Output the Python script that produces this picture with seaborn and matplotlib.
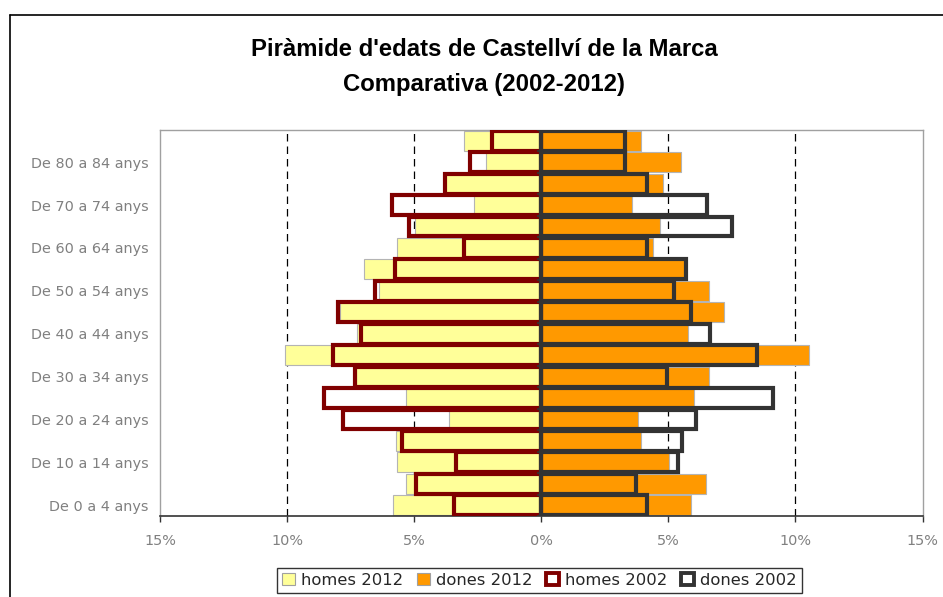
import matplotlib
matplotlib.use("Agg")
import matplotlib.pyplot as plt
from matplotlib.patches import Patch
from matplotlib.lines import Line2D
import seaborn as sns
import pandas as pd
import numpy as np

ages = ["De 0 a 4 anys", "De 5 a 9 anys", "De 10 a 14 anys", "De 15 a 19 anys",
        "De 20 a 24 anys", "De 25 a 29 anys", "De 30 a 34 anys", "De 35 a 39 anys",
        "De 40 a 44 anys", "De 45 a 49 anys", "De 50 a 54 anys", "De 55 a 59 anys",
        "De 60 a 64 anys", "De 65 a 69 anys", "De 70 a 74 anys", "De 75 a 79 anys",
        "De 80 a 84 anys", "De 85 i més anys"]

homes_2012 = [5.84, 5.31, 5.66, 5.71, 3.61, 5.31, 7.30, 10.10, 7.23, 7.90,
              6.37, 6.96, 5.66, 4.96, 2.66, 3.80, 2.18, 3.02]
dones_2012 = [5.88, 6.48, 5.01, 3.94, 3.81, 6.00, 6.59, 10.55, 5.76, 7.20,
              6.59, 5.65, 4.38, 4.66, 3.57, 4.78, 5.51, 3.94]
homes_2002 = [3.45, 4.92, 3.35, 5.46, 7.80, 8.55, 7.34, 8.19, 7.08, 7.99,
              6.55, 5.76, 3.04, 5.20, 5.89, 3.80, 2.79, 1.93]
dones_2002 = [4.16, 3.73, 5.37, 5.54, 6.10, 9.13, 4.93, 8.48, 6.65, 5.89,
              5.24, 5.70, 4.16, 7.49, 6.51, 4.16, 3.31, 3.31]

xticks = [-15, -10, -5, 0, 5, 10, 15]
xticklabels = ["15%", "10%", "5%", "0%", "5%", "10%", "15%"]
legend_labels = ["homes 2012", "dones 2012", "homes 2002", "dones 2002"]

c_h12 = "#FFFF99"
c_d12 = "#FF9900"
c_h02 = "#800000"
c_d02 = "#333333"

df = pd.DataFrame({
    "age": ages,
    "h12": [-v for v in homes_2012],
    "d12": dones_2012,
    "h02": [-v for v in homes_2002],
    "d02": dones_2002,
})
order = ages[::-1]

sns.set_theme(style="white")
plt.rcParams["font.family"] = ["DejaVu Sans"]

W, H = 943, 597
fig = plt.figure(figsize=(W / 100, H / 100), dpi=100)
ax = fig.add_axes([160 / W, 1 - 516 / H, (922.5 - 160) / W, (516 - 130) / H])

bw = 0.93
sns.barplot(data=df, x="h12", y="age", order=order, orient="h", color=c_h12,
            width=bw, edgecolor="#B4B4B4", linewidth=0.8, errorbar=None,
            saturation=1, ax=ax, zorder=2)
sns.barplot(data=df, x="d12", y="age", order=order, orient="h", color=c_d12,
            width=bw, edgecolor="#B4B4B4", linewidth=0.8, errorbar=None,
            saturation=1, ax=ax, zorder=2)
sns.barplot(data=df, x="h02", y="age", order=order, orient="h", color=c_h02,
            width=bw, fill=False, linewidth=3.0, errorbar=None,
            saturation=1, ax=ax, zorder=3)
sns.barplot(data=df, x="d02", y="age", order=order, orient="h", color=c_d02,
            width=bw, fill=False, linewidth=3.0, errorbar=None,
            saturation=1, ax=ax, zorder=3)

n = len(ages)
ax.set_xlim(-15, 15)
ax.set_ylim(n - 0.5, -0.5)

# grid dashed lines
for xv in [-10, -5, 5, 10]:
    ax.axvline(xv, color="black", lw=0.9, ls=(0, (6, 4)), zorder=1)
# center axis
ax.axvline(0, color="#333333", lw=2.2, zorder=4)
ax.hlines(np.arange(n + 1) - 0.5, -0.17, 0, color="#333333", lw=1.2, zorder=4)

ax.set_xticks(xticks)
ax.set_xticklabels(xticklabels)
pos = list(range(n))
ax.set_yticks(pos)
ylabs = [lab if (ages.index(lab) % 2 == 0 and lab != ages[-1]) else "" for lab in order]
ax.set_yticklabels(ylabs)
ax.tick_params(axis="y", length=0, pad=8, labelsize=10.4, labelcolor="#808080")
ax.tick_params(axis="x", length=4, width=1, color="#333333", direction="out",
               pad=9, labelsize=10.4, labelcolor="#808080", bottom=True)
ax.set_xlabel("")
ax.set_ylabel("")
for s in ["top", "left", "right"]:
    ax.spines[s].set_color("#A0A0A0")
    ax.spines[s].set_linewidth(1.0)
    ax.spines[s].set_visible(True)
ax.spines["bottom"].set_color("#333333")
ax.spines["bottom"].set_linewidth(1.2)
ax.grid(False)

fig.text(484 / W, 1 - 50 / H, "Piràmide d'edats de Castellví de la Marca",
         ha="center", va="center", fontsize=17.2, fontweight="bold",
         family="Liberation Sans", color="black")
fig.text(484 / W, 1 - 84 / H, "Comparativa (2002-2012)",
         ha="center", va="center", fontsize=17.2, fontweight="bold",
         family="Liberation Sans", color="black")

# outer chart frame (left and top edges visible)
fig.add_artist(Line2D([9.5 / W, 9.5 / W], [0, 1 - 15 / H], transform=fig.transFigure,
                      color="black", lw=1.2))
fig.add_artist(Line2D([9.5 / W, 1], [1 - 15 / H, 1 - 15 / H], transform=fig.transFigure,
                      color="black", lw=1.2))

handles = [
    Patch(facecolor=c_h12, edgecolor="#A0A0A0", linewidth=0.8),
    Patch(facecolor=c_d12, edgecolor="#A0A0A0", linewidth=0.8),
    Patch(facecolor="white", edgecolor=c_h02, linewidth=2.8),
    Patch(facecolor="white", edgecolor=c_d02, linewidth=2.8),
]
leg = fig.legend(handles, legend_labels, loc="upper left",
                 bbox_to_anchor=(277 / W, 1 - 568 / H), ncol=4, frameon=True,
                 fancybox=False, edgecolor="black", fontsize=11.8,
                 handlelength=0.8, handleheight=0.8, handletextpad=0.35,
                 columnspacing=0.85, borderpad=0.3, borderaxespad=0)
leg.get_frame().set_linewidth(1.0)

fig.savefig("out.png", dpi=100)
